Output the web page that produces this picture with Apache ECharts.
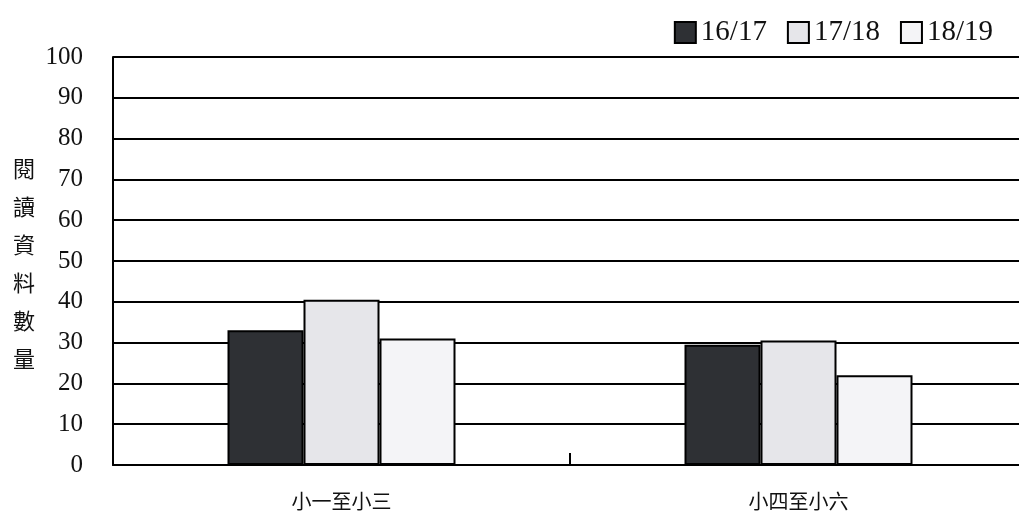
<!DOCTYPE html>
<html><head><meta charset="utf-8">
<script src="https://cdn.jsdelivr.net/npm/echarts@6/dist/echarts.min.js"></script>
<style>html,body{margin:0;padding:0;background:#fff}#c{width:1019px;height:525px}</style>
</head><body><div id="c"></div>
<script>
const categories = ['小一至小三', '小四至小六'];
const seriesNames = ['16/17', '17/18', '18/19'];
const s1617 = [33, 29.5];
const s1718 = [40.5, 30.5];
const s1819 = [31, 22];
const yTicks = [0, 10, 20, 30, 40, 50, 60, 70, 80, 90, 100];
const yTitle = '閱讀資料數量';

const colors = ['#2e3034', '#e6e6ea', '#f4f4f7'];
const values = [s1617, s1718, s1819];
const serif = "'Liberation Serif', 'Times New Roman', Times, serif";

const chart = echarts.init(document.getElementById('c'));
chart.setOption({
  backgroundColor: '#ffffff',
  animation: false,
  legend: {
    right: 21, top: 13,
    itemWidth: 21, itemHeight: 21, itemGap: 20,
    icon: 'rect',
    textStyle: { fontFamily: serif, fontSize: 29, color: '#111' },
    data: seriesNames
  },
  grid: { left: 113, right: -8, top: 57, bottom: 60, containLabel: false, outerBoundsMode: 'none' },
  xAxis: {
    type: 'category',
    data: categories,
    axisLine: { lineStyle: { color: '#000', width: 2 } },
    axisTick: { show: true, inside: true, length: 12, lineStyle: { color: '#000', width: 2 } },
    axisLabel: { fontFamily: 'Noto Sans CJK TC', fontSize: 20, color: '#111', margin: 26 },
    splitLine: { show: false }
  },
  yAxis: {
    type: 'value',
    min: yTicks[0], max: yTicks[yTicks.length - 1], interval: 10,
    axisLine: { show: true, lineStyle: { color: '#000', width: 2 } },
    axisTick: { show: false },
    axisLabel: { fontFamily: serif, fontSize: 25, color: '#111', margin: 30 },
    splitLine: { lineStyle: { color: '#000', width: 2 } }
  },
  graphic: [{
    type: 'text', left: 13, top: 150,
    style: {
      text: yTitle.split('').join('\n'),
      fontFamily: 'Noto Sans CJK TC', fontSize: 22, lineHeight: 38, fill: '#111', align: 'center'
    }
  }],
  series: seriesNames.map((n, i) => ({
    name: n, type: 'bar',
    data: values[i],
    barWidth: 76, barGap: '0%',
    itemStyle: { color: colors[i], borderColor: '#000', borderWidth: 2 }
  }))
});
</script></body></html>
